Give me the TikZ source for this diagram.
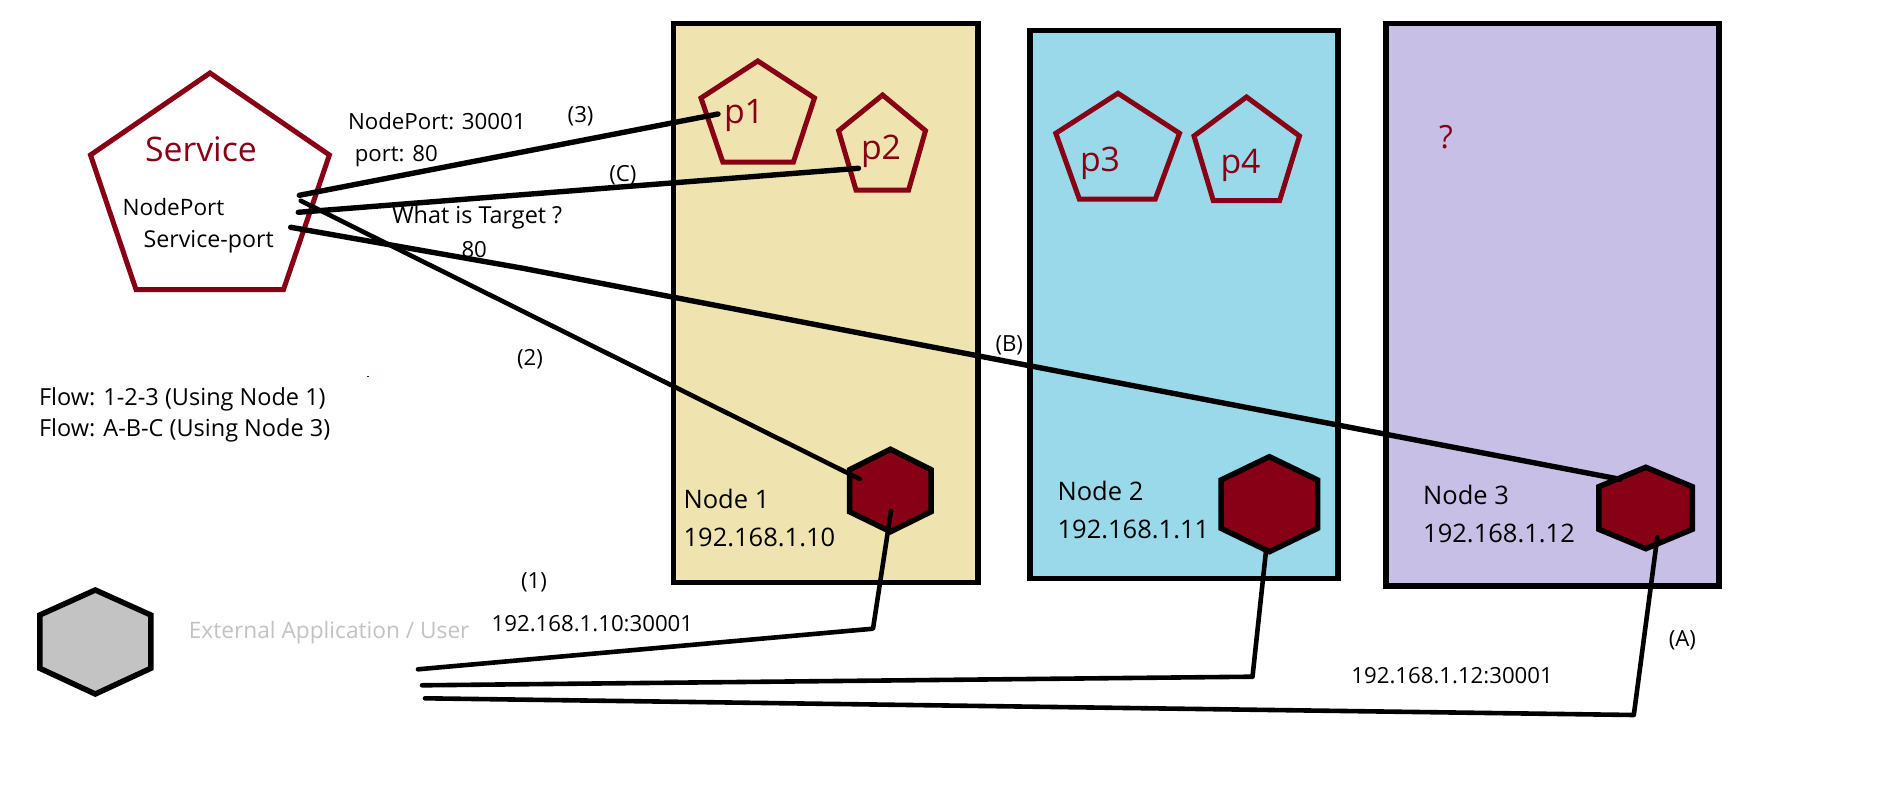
\documentclass[tikz,border=0pt]{standalone}
\usepackage{fontspec}
\setmainfont{Open Sans}
\definecolor{boxA}{HTML}{EFE4B0}
\definecolor{boxB}{HTML}{99D9EA}
\definecolor{boxC}{HTML}{C8BFE7}
\definecolor{dred}{HTML}{880015}
\definecolor{lgray}{HTML}{C3C3C3}
\tikzset{
  hostbox/.style={draw=black,line width=5.5pt},
  podshape/.style={draw=dred,line width=5pt,line join=miter},
  hexshape/.style={draw=black,line width=5.5pt,line join=miter},
  link/.style={draw=black,line width=5.4pt,line join=round,line cap=round},
  lowlink/.style={link,line width=4.6pt},
  lbl/.style={anchor=base west,inner sep=0pt,outer sep=0pt,text=black},
  sz/.style={font=\fontsize{#1}{#1}\selectfont},
  small/.style={lbl,sz=22.2},
  mid/.style={lbl,sz=25.5},
  big/.style={lbl,text=dred,sz=33.8},
}
\begin{document}
\begin{tikzpicture}[x=1pt,y=-1pt]
\useasboundingbox (0,0) rectangle (1892,797);
\fill[white] (0,0) rectangle (1892,797);
% host boxes
\draw[hostbox,fill=boxA] (673.3,23.5) rectangle (978,582.3);
\draw[hostbox,fill=boxB] (1030,30.5) rectangle (1338,578.7);
\draw[hostbox,fill=boxC] (1386,23.5) rectangle (1719,586);
% service and pods
\draw[podshape] (210,73) -- (329.4,155) -- (283.5,289.5) -- (136,289.5) -- (90.5,155) -- cycle;
\draw[podshape] (757.8,61) -- (814.5,98) -- (793.4,162) -- (722.8,162) -- (701,98) -- cycle;
\draw[podshape] (882.6,95) -- (925.5,130.7) -- (908.6,190) -- (856,190) -- (838.6,130.7) -- cycle;
\draw[podshape] (1118,93.3) -- (1179.5,133.3) -- (1155.3,199) -- (1079.3,199) -- (1055.8,133.3) -- cycle;
\draw[podshape] (1246.5,97) -- (1299.5,136) -- (1279.6,200.7) -- (1213.3,200.7) -- (1194,136) -- cycle;
% hexagons
\draw[hexshape,fill=dred] (890.5,449.3) -- (931,469.7) -- (931,511.7) -- (890.5,531.7) -- (849.5,511.7) -- (849.5,469.7) -- cycle;
\draw[hexshape,fill=dred] (1269.4,456.7) -- (1317.6,480) -- (1317.6,528.3) -- (1269.4,551.7) -- (1221,528.3) -- (1221,480) -- cycle;
\draw[hexshape,fill=dred] (1645.8,467.3) -- (1692.3,486.7) -- (1692.3,529.3) -- (1645.8,548.7) -- (1598.8,529.3) -- (1598.8,486.7) -- cycle;
\draw[hexshape,fill=lgray] (95.3,590) -- (150.8,615) -- (150.8,668.3) -- (95.3,694) -- (39.8,668.3) -- (39.8,615) -- cycle;
% labels
\node[big] (service) at (145,161.7) {Service};
\node[small,sz=22.6] (nodeport) at (122.7,215) {NodePort};
\node[small,sz=23.2] (serviceport) at (143.6,247.3) {Service-port};
\node[small,sz=22.3] (np30001) at (348,129.3) {NodePort: 30001};
\node[small] (port80) at (354.8,161.7) {port: 80};
\node[small] (n3) at (567.7,123) {(3)};
\node[small] (nC) at (609.4,181.7) {(C)};
\node[small,sz=23.4] (target) at (392,223) {What is Target ?};
\node[small] (t80) at (461.5,257) {80};
\node[small] (n2) at (517,365.7) {(2)};
\node[small,sz=23.5] (flow1) at (39,405) {Flow: 1-2-3 (Using Node 1)};
\node[small,sz=23.5] (flow2) at (39,436) {Flow: A-B-C (Using Node 3)};
\node[small] (n1) at (521,588) {(1)};
\node[small] (addr1) at (491.7,631) {192.168.1.10:30001};
\node[small,sz=22.7,text=lgray] (ext) at (188.8,638.3) {External Application / User};
\node[mid] (node1) at (683.6,508.3) {Node 1};
\node[mid] (ip1) at (683.6,546.7) {192.168.1.10};
\node[mid] (node2) at (1057.6,500.7) {Node 2};
\node[mid] (ip2) at (1057.6,538.3) {192.168.1.11};
\node[mid] (node3) at (1423.2,504.3) {Node 3};
\node[mid] (ip3) at (1423.2,542.7) {192.168.1.12};
\node[small] (addr3) at (1351.4,683.3) {192.168.1.12:30001};
\node[small] (nA) at (1668.8,646.7) {(A)};
\node[small] (nB) at (995.5,351.7) {(B)};
\node[big] (p1) at (724,124) {p1};
\node[big] (p2) at (861,159) {p2};
\node[big] (p3) at (1080,171.7) {p3};
\node[big] (p4) at (1220.5,173.3) {p4};
\node[big,sz=32] (qm) at (1439,149) {?};
\fill[dred] (367,375.5) rectangle (369,376.5);
% connector ends
\coordinate (sA) at (299.3,195.3);
\coordinate (sB) at (298.3,212.3);
\coordinate (sC) at (300.7,200.7);
\coordinate (sD) at (290.7,227.3);
\coordinate (pA) at (718,114);
\coordinate (pB) at (858.5,168.3);
\coordinate (hA) at (859.7,479);
\coordinate (hB) at (1620,479.3);
\coordinate (hC) at (891,511);
\coordinate (hD) at (1265.8,552.7);
\coordinate (hE) at (1657.3,537.3);
\coordinate (bA) at (873,628.7);
\coordinate (bB) at (1252.5,676.7);
\coordinate (bC) at (1633.8,715);
\coordinate (eA) at (418,669.3);
\coordinate (eB) at (422,685.3);
\coordinate (eC) at (425,698.3);
\coordinate (kink) at (523,268.3);
% connectors
\draw[link] (sA) -- (pA);
\draw[link] (sB) -- (pB);
\draw[lowlink] (sC) -- (hA);
\draw[link] (sD) -- (kink) -- (hB);
\draw[lowlink] (eA) -- (bA) -- (hC);
\draw[lowlink] (eB) -- (bB) -- (hD);
\draw[lowlink] (eC) -- (bC) -- (hE);
\end{tikzpicture}
\end{document}
